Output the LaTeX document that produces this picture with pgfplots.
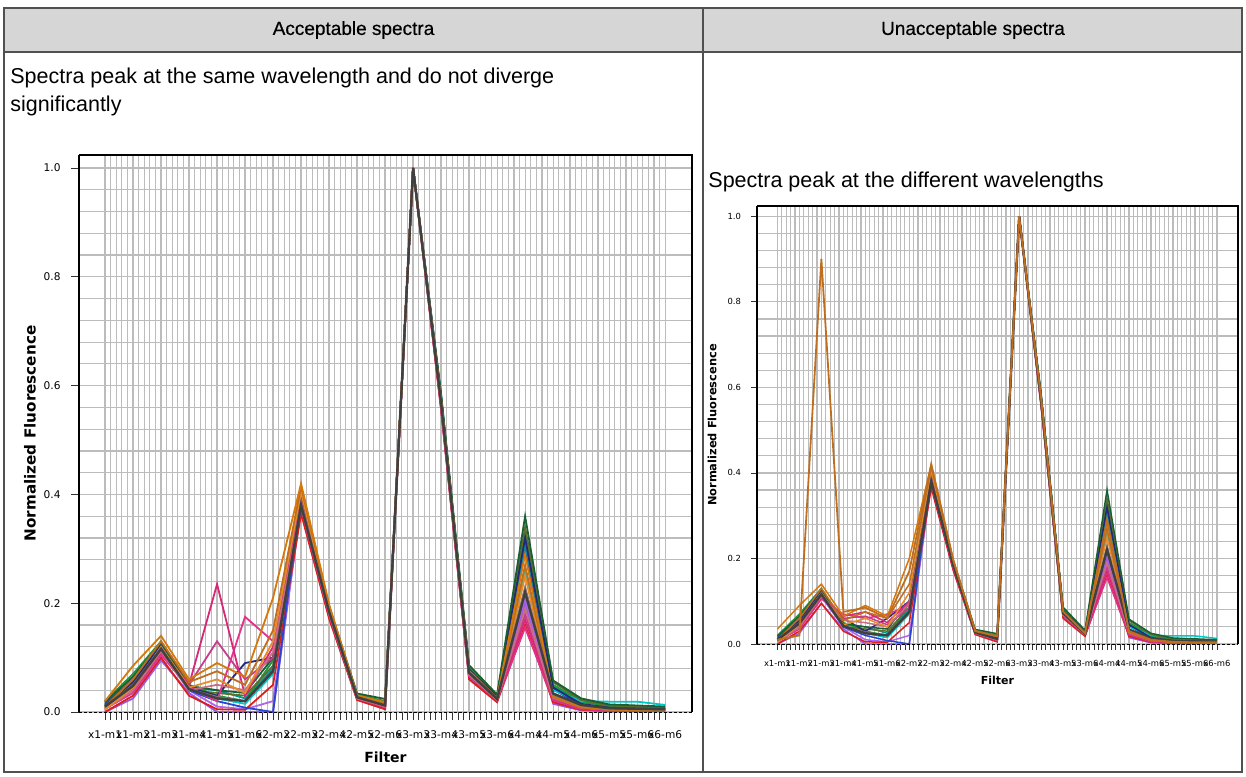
\documentclass[border=0pt]{standalone}
\usepackage{fontspec}
\setmainfont{Liberation Sans}
\newfontfamily\chartfont{DejaVu Sans}
\newfontfamily\hdrfont[FakeBold=0.4]{Liberation Sans}
\usepackage{pgfplots}
\usepackage{pgfplotstable}
\pgfplotsset{compat=1.18}

\definecolor{hdr}{RGB}{214,214,214}
\definecolor{tbl}{RGB}{80,80,80}
\definecolor{gridc}{RGB}{188,188,188}
\definecolor{cr}{RGB}{220,30,30}
\definecolor{cb}{RGB}{40,70,210}
\definecolor{cg}{RGB}{30,150,60}
\definecolor{co}{RGB}{214,120,10}
\definecolor{co2}{RGB}{190,110,30}
\definecolor{co3}{RGB}{230,140,40}
\definecolor{cma}{RGB}{215,40,120}
\definecolor{cmb}{RGB}{225,50,140}
\definecolor{cmc}{RGB}{200,60,140}
\definecolor{cp}{RGB}{150,90,230}
\definecolor{ct}{RGB}{0,150,150}
\definecolor{col}{RGB}{95,110,45}
\definecolor{cv}{RGB}{175,100,235}
\definecolor{ccy}{RGB}{0,200,200}
\definecolor{cdg}{RGB}{25,95,50}
\definecolor{cnv}{RGB}{35,40,120}
\definecolor{cbg}{RGB}{140,115,105}
\definecolor{cro}{RGB}{200,110,130}
\definecolor{cdk}{RGB}{64,64,64}

\pgfplotstableread{
i r b g o o2 o3 ma mb mc p t ol v cy dg nv bg ro dk
0 0.000 0.015 0.020 0.020 0.010 0.005 0.008 0.006 0.008 0.000 0.012 0.010 0.005 0.010 0.018 0.012 0.010 0.005 0.010
1 0.030 0.060 0.070 0.085 0.060 0.045 0.040 0.035 0.045 0.025 0.055 0.050 0.040 0.050 0.065 0.055 0.050 0.040 0.048
2 0.100 0.125 0.130 0.140 0.130 0.120 0.110 0.105 0.115 0.095 0.120 0.120 0.110 0.118 0.128 0.122 0.118 0.112 0.116
3 0.030 0.040 0.050 0.060 0.055 0.045 0.050 0.045 0.050 0.035 0.045 0.040 0.040 0.042 0.048 0.045 0.042 0.040 0.042
4 0.005 0.020 0.030 0.090 0.075 0.060 0.235 0.020 0.130 0.000 0.040 0.035 0.010 0.025 0.040 0.030 0.028 0.050 0.025
5 0.004 0.008 0.020 0.065 0.050 0.035 0.030 0.175 0.060 0.000 0.025 0.030 0.005 0.015 0.035 0.090 0.020 0.040 0.020
6 0.050 0.000 0.095 0.210 0.150 0.130 0.120 0.130 0.100 0.000 0.080 0.085 0.020 0.070 0.100 0.100 0.075 0.110 0.075
7 0.365 0.405 0.400 0.420 0.415 0.405 0.375 0.385 0.390 0.380 0.410 0.395 0.372 0.390 0.400 0.395 0.385 0.378 0.380
8 0.172 0.190 0.192 0.198 0.194 0.190 0.178 0.181 0.185 0.176 0.192 0.188 0.176 0.186 0.195 0.190 0.186 0.180 0.184
9 0.022 0.030 0.032 0.031 0.029 0.028 0.025 0.026 0.027 0.023 0.030 0.029 0.024 0.028 0.034 0.031 0.028 0.025 0.027
10 0.005 0.016 0.020 0.018 0.015 0.015 0.009 0.011 0.012 0.006 0.017 0.015 0.008 0.015 0.024 0.017 0.013 0.010 0.012
11 1.000 1.000 1.000 1.000 1.000 1.000 1.000 1.000 1.000 1.000 1.000 1.000 1.000 1.000 1.000 1.000 1.000 1.000 1.000
12 0.555 0.582 0.580 0.574 0.570 0.570 0.562 0.564 0.568 0.558 0.577 0.574 0.560 0.570 0.585 0.578 0.570 0.564 0.568
13 0.060 0.077 0.081 0.076 0.071 0.072 0.066 0.068 0.070 0.062 0.075 0.079 0.064 0.072 0.086 0.078 0.074 0.068 0.072
14 0.018 0.026 0.029 0.025 0.024 0.024 0.021 0.022 0.023 0.019 0.027 0.028 0.020 0.025 0.032 0.028 0.025 0.022 0.024
15 0.160 0.300 0.330 0.290 0.270 0.250 0.170 0.155 0.180 0.200 0.310 0.340 0.210 0.260 0.360 0.320 0.230 0.190 0.220
16 0.018 0.042 0.050 0.030 0.028 0.028 0.025 0.022 0.030 0.015 0.048 0.055 0.020 0.040 0.058 0.045 0.032 0.026 0.034
17 0.004 0.012 0.020 0.010 0.008 0.009 0.006 0.005 0.007 0.003 0.018 0.022 0.006 0.020 0.025 0.015 0.012 0.008 0.013
18 0.003 0.005 0.010 0.005 0.004 0.005 0.002 0.002 0.003 0.001 0.012 0.012 0.003 0.019 0.014 0.008 0.006 0.004 0.007
19 0.007 0.004 0.009 0.004 0.004 0.004 0.003 0.002 0.003 0.002 0.010 0.010 0.003 0.019 0.012 0.006 0.005 0.004 0.006
20 0.004 0.006 0.006 0.004 0.003 0.004 0.002 0.002 0.003 0.002 0.008 0.007 0.002 0.013 0.010 0.006 0.004 0.003 0.005
}\leftdata

\pgfplotstableread{
i r b g o o2 o3 ma mb mc p t ol v cy dg nv bg ro dk sp
0 0.000 0.015 0.020 0.035 0.010 0.005 0.008 0.006 0.008 0.000 0.012 0.010 0.005 0.010 0.018 0.012 0.010 0.005 0.010 0.010
1 0.030 0.060 0.070 0.090 0.060 0.045 0.040 0.035 0.045 0.025 0.055 0.050 0.040 0.050 0.065 0.055 0.050 0.040 0.048 0.020
2 0.095 0.125 0.130 0.140 0.130 0.120 0.110 0.105 0.115 0.095 0.120 0.122 0.110 0.118 0.128 0.122 0.118 0.112 0.116 0.900
3 0.030 0.040 0.050 0.065 0.055 0.045 0.065 0.070 0.060 0.035 0.045 0.040 0.040 0.042 0.048 0.060 0.042 0.055 0.042 0.075
4 0.005 0.020 0.030 0.090 0.075 0.060 0.075 0.060 0.065 0.000 0.040 0.035 0.010 0.025 0.040 0.030 0.028 0.050 0.025 0.085
5 0.004 0.008 0.020 0.065 0.060 0.040 0.050 0.070 0.045 0.000 0.025 0.030 0.005 0.015 0.035 0.060 0.020 0.040 0.020 0.060
6 0.050 0.000 0.095 0.200 0.140 0.120 0.100 0.090 0.085 0.000 0.080 0.085 0.020 0.070 0.100 0.100 0.075 0.095 0.075 0.170
7 0.365 0.405 0.400 0.420 0.415 0.405 0.375 0.385 0.390 0.380 0.410 0.395 0.372 0.390 0.400 0.395 0.385 0.378 0.380 0.420
8 0.172 0.190 0.192 0.198 0.194 0.190 0.178 0.181 0.185 0.176 0.192 0.188 0.176 0.186 0.195 0.190 0.186 0.180 0.184 0.196
9 0.022 0.030 0.032 0.031 0.029 0.028 0.025 0.026 0.027 0.023 0.030 0.029 0.024 0.028 0.034 0.031 0.028 0.025 0.027 0.030
10 0.005 0.016 0.020 0.018 0.015 0.015 0.009 0.011 0.012 0.006 0.017 0.015 0.008 0.015 0.024 0.017 0.013 0.010 0.012 0.018
11 1.000 1.000 1.000 1.000 1.000 1.000 1.000 1.000 1.000 1.000 1.000 1.000 1.000 1.000 1.000 1.000 1.000 1.000 1.000 1.000
12 0.555 0.582 0.580 0.574 0.570 0.570 0.562 0.564 0.568 0.558 0.577 0.574 0.560 0.570 0.585 0.578 0.570 0.564 0.568 0.574
13 0.060 0.077 0.081 0.076 0.071 0.072 0.066 0.068 0.070 0.062 0.075 0.079 0.064 0.072 0.086 0.078 0.074 0.068 0.072 0.076
14 0.018 0.026 0.029 0.025 0.024 0.024 0.021 0.022 0.023 0.019 0.027 0.028 0.020 0.025 0.032 0.028 0.025 0.022 0.024 0.025
15 0.160 0.300 0.330 0.290 0.270 0.250 0.170 0.155 0.180 0.200 0.310 0.340 0.210 0.260 0.360 0.320 0.230 0.190 0.220 0.290
16 0.018 0.042 0.050 0.030 0.028 0.028 0.025 0.022 0.030 0.015 0.048 0.055 0.020 0.040 0.058 0.045 0.032 0.026 0.034 0.030
17 0.004 0.012 0.020 0.010 0.008 0.009 0.006 0.005 0.007 0.003 0.018 0.022 0.006 0.020 0.025 0.015 0.012 0.008 0.013 0.010
18 0.003 0.005 0.010 0.005 0.004 0.005 0.002 0.002 0.003 0.001 0.012 0.012 0.003 0.019 0.014 0.008 0.006 0.004 0.007 0.005
19 0.007 0.004 0.009 0.004 0.004 0.004 0.003 0.002 0.003 0.002 0.010 0.010 0.003 0.019 0.012 0.006 0.005 0.004 0.006 0.004
20 0.004 0.006 0.006 0.004 0.003 0.004 0.002 0.002 0.003 0.002 0.008 0.007 0.002 0.013 0.010 0.006 0.004 0.003 0.005 0.004
}\rightdata

\newcommand{\plotall}[1]{%
  \addplot[cp] table[x=i,y=p]{#1};
  \addplot[cv] table[x=i,y=v]{#1};
  \addplot[cr] table[x=i,y=r]{#1};
  \addplot[cb] table[x=i,y=b]{#1};
  \addplot[ct] table[x=i,y=t]{#1};
  \addplot[cg] table[x=i,y=g]{#1};
  \addplot[ccy] table[x=i,y=cy]{#1};
  \addplot[col] table[x=i,y=ol]{#1};
  \addplot[cnv] table[x=i,y=nv]{#1};
  \addplot[cdg] table[x=i,y=dg]{#1};
  \addplot[cmc] table[x=i,y=mc]{#1};
  \addplot[cmb] table[x=i,y=mb]{#1};
  \addplot[cma] table[x=i,y=ma]{#1};
  \addplot[cro] table[x=i,y=ro]{#1};
  \addplot[co3] table[x=i,y=o3]{#1};
  \addplot[co2] table[x=i,y=o2]{#1};
  \addplot[co] table[x=i,y=o]{#1};
  \addplot[cbg] table[x=i,y=bg]{#1};
  \addplot[cdk, line width=1.2pt] table[x=i,y=dk]{#1};
}

\newcommand{\frameit}{%
  \draw[black, line width=0.6pt] (rel axis cs:0,1) -- (rel axis cs:1,1) -- (rel axis cs:1,0);
  \draw[black, line width=1pt] (rel axis cs:0,0) -- (rel axis cs:0,1);
  \draw[black, line width=0.5pt, dash pattern=on 1.5pt off 1pt] (rel axis cs:0,0) -- (rel axis cs:1,0);
}

\pgfplotsset{
  specaxis/.style={
    scale only axis, anchor=south west,
    xmin=-0.93, xmax=20.96, ymin=0, ymax=1.024,
    xtick={0,...,20},
    xticklabels={x1-m1,x1-m2,x1-m3,x1-m4,x1-m5,x1-m6,x2-m2,x2-m3,x2-m4,x2-m5,x2-m6,x3-m3,x3-m4,x3-m5,x3-m6,x4-m4,x4-m5,x4-m6,x5-m5,x5-m6,x6-m6},
    ytick={0,0.2,0.4,0.6,0.8,1.0},
    minor x tick num=4, minor y tick num=4,
    grid=both,
    major grid style={draw=gridc, line width=0.6pt},
    minor grid style={draw=gridc, line width=0.6pt},
    axis line style={draw=none},
    tick align=outside, tick pos=left,
    tick style={draw=black!80, line width=0.35pt},
    minor y tick style={draw=none},
    yticklabel style={/pgf/number format/.cd, fixed, fixed zerofill, precision=1},
    /pgf/number format/assume math mode=true,
    every axis plot/.append style={line width=0.9pt, mark=none},
    clip=false,
  }
}

\begin{document}
\begin{tikzpicture}
\useasboundingbox (0,0) rectangle (623pt,388pt);
\fill[hdr] (2pt,362pt) rectangle (621pt,384pt);
\draw[tbl, line width=0.6pt] (2pt,2pt) rectangle (621pt,384pt);
\draw[tbl, line width=0.6pt] (2pt,362pt) -- (621pt,362pt);
\draw[tbl, line width=0.6pt] (351.5pt,2pt) -- (351.5pt,384pt);
\node[font=\hdrfont\fontsize{9.5}{11}\selectfont] at (176.75pt,373pt) {Acceptable spectra};
\node[font=\hdrfont\fontsize{9.5}{11}\selectfont] at (486.5pt,373pt) {Unacceptable spectra};
\node[anchor=base west, inner sep=0, font=\fontsize{10.75}{13}\selectfont] at (5pt,346.2pt) {Spectra peak at the same wavelength and do not diverge};
\node[anchor=base west, inner sep=0, font=\fontsize{10.75}{13}\selectfont] at (5pt,332.2pt) {significantly};
\node[anchor=base west, inner sep=0, font=\fontsize{10.75}{13}\selectfont] at (354pt,294.2pt) {Spectra peak at the different wavelengths};

\begin{axis}[specaxis,
  at={(39.5pt,32pt)}, width=306.5pt, height=278.5pt,
  major tick length=4pt, minor tick length=4pt,
  tick label style={font=\chartfont\fontsize{5.3}{6}\selectfont},
  xticklabel shift=2pt, yticklabel shift=1.7pt,
  ylabel={Normalized Fluorescence}, xlabel={Filter},
  every axis y label/.style={at={(rel axis cs:0,0.5)}, xshift=-24.5pt, rotate=90, anchor=center, font=\chartfont\bfseries\fontsize{7.6}{8.5}\selectfont},
  every axis x label/.style={at={(rel axis cs:0.5,0)}, yshift=-22.5pt, anchor=center, font=\chartfont\bfseries\fontsize{7}{8}\selectfont},
]
\plotall{\leftdata}
\frameit
\end{axis}

\begin{axis}[specaxis,
  at={(378.5pt,66pt)}, width=240.5pt, height=219pt,
  major tick length=3pt, minor tick length=3pt,
  tick label style={font=\chartfont\fontsize{4.2}{5}\selectfont},
  xticklabel shift=1.5pt, yticklabel shift=1.5pt,
  every axis plot/.append style={line width=0.75pt},
  ylabel={Normalized Fluorescence}, xlabel={Filter},
  every axis y label/.style={at={(rel axis cs:0,0.5)}, xshift=-22.5pt, rotate=90, anchor=center, font=\chartfont\bfseries\fontsize{5.7}{6.5}\selectfont},
  every axis x label/.style={at={(rel axis cs:0.5,0)}, yshift=-18pt, anchor=center, font=\chartfont\bfseries\fontsize{5.5}{6.5}\selectfont},
]
\plotall{\rightdata}
\addplot[co2, line width=0.9pt] table[x=i,y=sp]{\rightdata};
\frameit
\end{axis}
\end{tikzpicture}
\end{document}
